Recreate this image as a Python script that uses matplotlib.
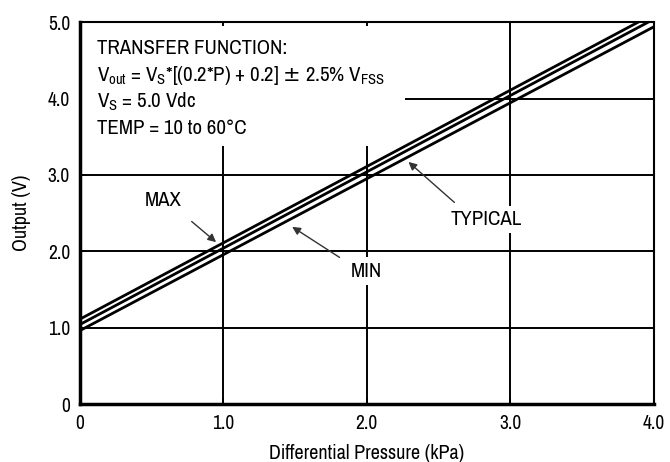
import matplotlib.pyplot as plt
from matplotlib.patches import Rectangle

plt.rcParams['font.family'] = ['Arial Narrow', 'Liberation Sans Narrow', 'Archivo Narrow',
                               'PT Sans Narrow', 'Roboto Condensed', 'Liberation Sans',
                               'DejaVu Sans']
plt.rcParams['mathtext.fontset'] = 'custom'

# data
pressure = [0.0, 4.0]
out_max = [1.11, 5.11]
out_typ = [1.04, 5.04]
out_min = [0.96, 4.94]

x_ticks = [0, 1.0, 2.0, 3.0, 4.0]
x_labels = ['0', '1.0', '2.0', '3.0', '4.0']
y_ticks = [0, 1.0, 2.0, 3.0, 4.0, 5.0]
y_labels = ['0', '1.0', '2.0', '3.0', '4.0', '5.0']

fig = plt.figure(figsize=(6.7, 4.62), dpi=100)
ax = fig.add_axes([0.119, 0.1255, 0.857, 0.8265])

ax.set_xlim(0, 4)
ax.set_ylim(0, 5)

# grid
for x in x_ticks[1:-1]:
    ax.axvline(x, color='black', lw=1.4, zorder=1)
for y in y_ticks[1:-1]:
    ax.axhline(y, color='black', lw=1.4, zorder=1)

# white area behind the transfer function text
ax.add_patch(Rectangle((0.015, 3.38), 2.25, 1.57, facecolor='white',
                       edgecolor='none', zorder=2))

for ys in (out_max, out_typ, out_min):
    ax.plot(pressure, ys, color='black', lw=2.0, zorder=3, solid_capstyle='butt')

fs = 15
ax.text(0.12, 4.66, 'TRANSFER FUNCTION:', fontsize=fs, zorder=4, va='center')
ax.text(0.12, 4.30,
        r'V$_\mathregular{out}$ = V$_\mathregular{S}$*[(0.2*P) + 0.2] $\pm$ 2.5% V$_\mathregular{FSS}$',
        fontsize=fs, zorder=4, va='center')
ax.text(0.12, 3.96, r'V$_\mathregular{S}$ = 5.0 Vdc', fontsize=fs, zorder=4, va='center')
ax.text(0.12, 3.61, 'TEMP = 10 to 60°C', fontsize=fs, zorder=4, va='center')

arrow = dict(arrowstyle='-|>', color='#333333', lw=1.0, mutation_scale=12,
             shrinkA=0, shrinkB=0)
box = dict(boxstyle='square,pad=0.2', facecolor='white', edgecolor='none')
ax.text(0.58, 2.66, 'MAX', fontsize=fs, ha='center', va='center', zorder=5)
ax.annotate('', xy=(0.95, 2.12), xytext=(0.78, 2.39), arrowprops=arrow, zorder=5)
ax.text(2.0, 1.74, 'MIN', fontsize=fs, ha='center', va='center', bbox=box, zorder=5)
ax.annotate('', xy=(1.48, 2.32), xytext=(1.81, 1.92), arrowprops=arrow, zorder=5)
ax.text(2.83, 2.42, 'TYPICAL', fontsize=fs, ha='center', va='center', bbox=box, zorder=5)
ax.annotate('', xy=(2.29, 3.17), xytext=(2.61, 2.64), arrowprops=arrow, zorder=5)

ax.set_xticks(x_ticks)
ax.set_xticklabels(x_labels)
ax.set_yticks(y_ticks)
ax.set_yticklabels(y_labels)
ax.tick_params(direction='in', length=4, width=1.4, labelsize=14, pad=7)
for s in ax.spines.values():
    s.set_linewidth(2.5)
    s.set_zorder(6)
ax.spines['top'].set_linewidth(1.5)
ax.spines['right'].set_linewidth(1.5)

ax.set_xlabel('Differential Pressure (kPa)', fontsize=14.5, labelpad=8)
ax.set_ylabel('Output (V)', fontsize=14.5, labelpad=12)

fig.savefig('out.png', dpi=100)
